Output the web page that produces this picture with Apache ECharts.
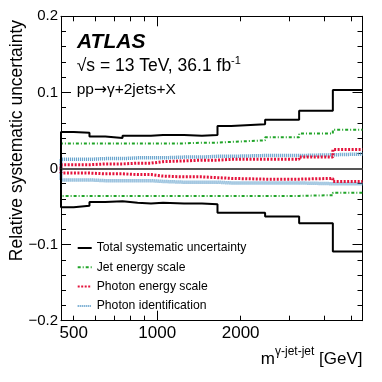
<!DOCTYPE html>
<html>
<head>
<meta charset="utf-8">
<script src="https://cdn.jsdelivr.net/npm/echarts@6/dist/echarts.min.js"></script>
<style>
  html, body { margin: 0; padding: 0; background: #fff; }
  #chart { width: 382px; height: 382px; }
</style>
</head>
<body>
<div id="chart"></div>
<script>
// bin edges of m(gamma-jet-jet) in GeV
const edges = [450, 500, 570, 650, 750, 850, 950, 1050, 1250, 1450, 1650, 1850, 2450, 3250, 4300, 5500]
// relative uncertainties per bin, up / down
const totalUp = [0.048, 0.047, 0.042, 0.040, 0.043, 0.043, 0.044, 0.044, 0.043, 0.044, 0.056, 0.058, 0.064, 0.076, 0.103]
const totalDown = [-0.051, -0.049, -0.044, -0.043, -0.045, -0.046, -0.045, -0.046, -0.046, -0.047, -0.058, -0.058, -0.063, -0.072, -0.109]
const jesUp = [0.033, 0.033, 0.033, 0.033, 0.033, 0.033, 0.033, 0.033, 0.034, 0.034, 0.035, 0.037, 0.041, 0.046, 0.051]
const jesDown = [-0.036, -0.036, -0.036, -0.036, -0.036, -0.036, -0.036, -0.036, -0.036, -0.036, -0.036, -0.036, -0.036, -0.035, -0.032]
const pesUp = [0.005, 0.005, 0.006, 0.006, 0.007, 0.007, 0.009, 0.010, 0.011, 0.011, 0.012, 0.012, 0.012, 0.015, 0.025]
const pesDown = [-0.006, -0.006, -0.007, -0.007, -0.008, -0.008, -0.010, -0.011, -0.011, -0.012, -0.013, -0.014, -0.014, -0.013, -0.017]
const pidUp = [0.012, 0.012, 0.013, 0.013, 0.014, 0.014, 0.014, 0.015, 0.015, 0.016, 0.016, 0.017, 0.017, 0.018, 0.019]
const pidDown = [-0.015, -0.015, -0.016, -0.016, -0.016, -0.016, -0.017, -0.018, -0.018, -0.018, -0.019, -0.019, -0.019, -0.020, -0.020]
// axis ticks
const xLabels = [500, 1000, 2000]
const xMinorTicks = [500, 600, 700, 800, 900, 2000, 3000, 4000, 5000]
const xMajorTicks = [1000]

const FONT = 'Liberation Sans, Arial, sans-serif'
const xMin = 450
const xMax = 5500

// turn bin edges + values into step-line points
function histData (vals) {
  const pts = [[edges[0], 0]]
  vals.forEach((v, i) => pts.push([edges[i], v]))
  pts.push([edges[edges.length - 1], vals[vals.length - 1]])
  return pts
}

function xAxisDef (position, ticks, len, showLabel, showLine) {
  return {
    type: 'log',
    logBase: 10,
    position: position,
    min: xMin,
    max: xMax,
    axisLine: { show: showLine, onZero: false, lineStyle: { color: '#000', width: 1 } },
    axisTick: { show: true, inside: true, length: len, customValues: ticks, lineStyle: { color: '#000', width: 1 } },
    axisLabel: {
      show: showLabel,
      customValues: xLabels,
      margin: 4,
      color: '#000',
      fontSize: 17,
      fontFamily: FONT,
      formatter: v => String(v)
    },
    splitLine: { show: false },
    minorTick: { show: false }
  }
}

function yAxisDef (position, showLabel) {
  return {
    type: 'value',
    position: position,
    min: -0.2,
    max: 0.2,
    interval: 0.1,
    axisLine: { show: true, onZero: false, lineStyle: { color: '#000', width: 1 } },
    axisTick: { show: true, inside: true, length: 10, lineStyle: { color: '#000', width: 1 } },
    minorTick: { show: true, splitNumber: 5, length: 5, lineStyle: { color: '#000', width: 1 } },
    axisLabel: {
      show: showLabel,
      margin: 3,
      color: '#000',
      fontSize: 15,
      fontFamily: FONT,
      formatter: v => (v < 0 ? '\u2212' + (-v) : String(v))
    },
    splitLine: { show: false }
  }
}

function line (name, vals, color, width, dash, z) {
  return {
    name: name,
    type: 'line',
    step: 'end',
    symbol: 'none',
    showSymbol: false,
    xAxisIndex: 0,
    yAxisIndex: 0,
    data: histData(vals),
    z: z,
    lineStyle: { color: color, width: width, type: dash },
    itemStyle: { color: color },
    animation: false
  }
}

const names = ['Total systematic uncertainty', 'Jet energy scale', 'Photon energy scale', 'Photon identification']
const GREEN = '#20a428'
const RED = '#e4143c'
const BLUE = '#5196c6'

const chart = echarts.init(document.getElementById('chart'), null, { renderer: 'canvas' })

const option = {
  animation: false,
  grid: { left: 61, right: 19.5, top: 16.3, bottom: 61.3, containLabel: false },
  xAxis: [
    xAxisDef('bottom', xMinorTicks, 5, true, true),
    xAxisDef('bottom', xMajorTicks, 10, false, false),
    xAxisDef('top', xMinorTicks, 5, false, true),
    xAxisDef('top', xMajorTicks, 10, false, false)
  ],
  yAxis: [
    yAxisDef('left', true),
    yAxisDef('right', false)
  ],
  legend: {
    data: names,
    orient: 'vertical',
    left: 76.7,
    top: 242,
    padding: 0,
    itemWidth: 14,
    itemHeight: 12,
    itemGap: 7.3,
    selectedMode: false,
    itemStyle: { opacity: 0 },
    textStyle: { fontSize: 12.2, color: '#000', fontFamily: FONT }
  },
  series: [
    Object.assign(line(names[3], pidUp, BLUE, 3.5, [1, 1], 2), {
      markLine: {
        silent: true,
        symbol: 'none',
        label: { show: false },
        lineStyle: { color: '#555', width: 2, type: 'solid' },
        data: [{ yAxis: 0 }]
      }
    }),
    line(names[3], pidDown, BLUE, 3.5, [1, 1], 2),
    line(names[2], pesUp, RED, 3, [2, 1.5], 3),
    line(names[2], pesDown, RED, 3, [2, 1.5], 3),
    line(names[1], jesUp, GREEN, 2, [3, 2, 1, 2], 4),
    line(names[1], jesDown, GREEN, 2, [3, 2, 1, 2], 4),
    line(names[0], totalUp, '#000', 2, 'solid', 5),
    line(names[0], totalDown, '#000', 2, 'solid', 5)
  ],
  graphic: [
    {
      type: 'text',
      x: 77,
      y: 42,
      style: { text: 'ATLAS', font: 'italic bold 21px ' + FONT, fill: '#000', verticalAlign: 'middle' }
    },
    {
      type: 'text',
      x: 76.7,
      y: 55.5,
      style: {
        text: '{a|√s = 13 TeV, 36.1 fb}{b|-1}',
        fill: '#000',
        rich: {
          a: { fontSize: 17.5, fontFamily: FONT, lineHeight: 20, verticalAlign: 'bottom' },
          b: { fontSize: 11, fontFamily: FONT, lineHeight: 11, verticalAlign: 'top' }
        }
      }
    },
    {
      type: 'text',
      x: 76.7,
      y: 90,
      style: {
        text: '{a|pp}{r|→}{a|γ+2jets+X}',
        fill: '#000',
        verticalAlign: 'middle',
        rich: {
          a: { fontSize: 15.5, fontFamily: FONT, lineHeight: 18, verticalAlign: 'middle' },
          r: { fontSize: 15.5, fontFamily: 'DejaVu Sans', lineHeight: 18, verticalAlign: 'middle' }
        }
      }
    },
    {
      type: 'text',
      x: 17,
      y: 20,
      rotation: Math.PI / 2,
      style: { text: 'Relative systematic uncertainty', font: '17.5px ' + FONT, fill: '#000', align: 'right', verticalAlign: 'middle' }
    },
    {
      type: 'text',
      x: 362.5,
      y: 368,
      style: {
        text: '{m|m}{s|γ-jet-jet}{m| [GeV]}',
        fill: '#000',
        align: 'right',
        verticalAlign: 'bottom',
        rich: {
          m: { fontSize: 17, fontFamily: FONT, lineHeight: 22, verticalAlign: 'bottom' },
          s: { fontSize: 12, fontFamily: FONT, lineHeight: 12, verticalAlign: 'top' }
        }
      }
    }
  ]
}

chart.setOption(option)
</script>
</body>
</html>
